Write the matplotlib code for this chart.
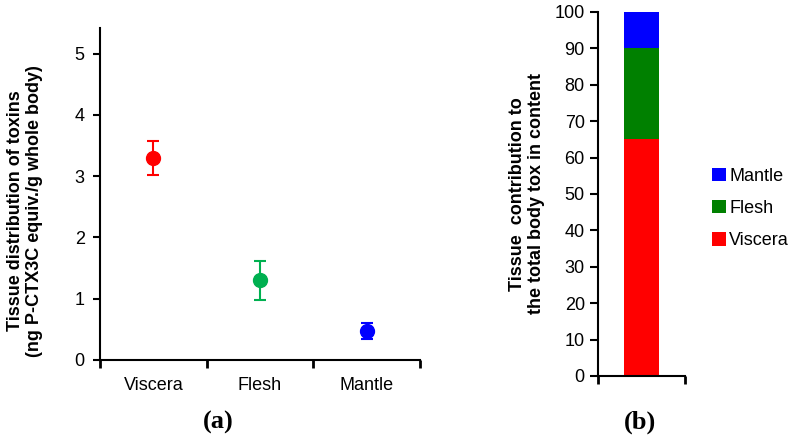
import numpy as np
import matplotlib.pyplot as plt

plt.rcParams['font.family'] = ['Liberation Sans', 'DejaVu Sans']

# panel (a): tissue distribution of toxins
tissues = ["Viscera", "Flesh", "Mantle"]
tox_mean = [3.3, 1.3, 0.48]
tox_err = [0.28, 0.32, 0.13]
point_colors = ["#ff0000", "#00b050", "#0000ff"]
a_yticks = [0, 1, 2, 3, 4, 5]

# panel (b): contribution to total body toxin content (%)
share_labels = ["Viscera", "Flesh", "Mantle"]
share_values = [65, 25, 10]
share_colors = ["#ff0000", "#008000", "#0000ff"]
b_yticks = [0, 10, 20, 30, 40, 50, 60, 70, 80, 90, 100]

fig = plt.figure(figsize=(7.88, 4.41), dpi=100)

# (a)
ax1 = fig.add_axes([0.1269, 0.1837, 0.4061, 0.7528])
xpos = np.arange(len(tissues)) + 0.5
for x, m, e, c in zip(xpos, tox_mean, tox_err, point_colors):
    ax1.errorbar(x, m, yerr=e, fmt='o', color=c, markersize=10,
                 capsize=4, elinewidth=1.5, capthick=1.5)
ax1.set_xlim(0, 3)
ax1.set_ylim(0, 5.42)
ax1.set_xticks([0, 1, 2, 3])
ax1.set_xticklabels([])
ax1.set_xticks(xpos, minor=True)
ax1.set_xticklabels(tissues, minor=True, fontsize=13)
ax1.tick_params(axis='x', which='minor', length=0, pad=12)
ax1.tick_params(axis='x', which='major', direction='out', length=6, width=2)
ax1.set_yticks(a_yticks)
ax1.tick_params(axis='y', direction='out', length=5, width=1.5, labelsize=13, pad=6)
for s in ['top', 'right']:
    ax1.spines[s].set_visible(False)
for s in ['left', 'bottom']:
    ax1.spines[s].set_linewidth(1.5)
ax1.set_ylabel("Tissue distribution of toxins\n(ng P-CTX3C equiv./g whole body)",
               fontsize=13, fontweight='bold', linespacing=1.15)
ax1.yaxis.set_label_coords(-0.178, 0.45)
fig.text(0.277, 0.043, "(a)", fontsize=19, fontweight='bold',
         family='Liberation Serif', ha='center', va='center')

# (b)
ax2 = fig.add_axes([0.7589, 0.1474, 0.1104, 0.8254])
bottom = 0
for lab, v, c in zip(share_labels, share_values, share_colors):
    ax2.bar(0.5, v, width=0.4, bottom=bottom, color=c, label=lab)
    bottom += v
ax2.set_xlim(0, 1)
ax2.set_ylim(0, 100)
ax2.set_xticks([0, 1])
ax2.set_xticklabels([])
ax2.tick_params(axis='x', direction='out', length=6, width=2)
ax2.set_yticks(b_yticks)
ax2.tick_params(axis='y', direction='out', length=6, width=1.5, labelsize=13)
for s in ['top', 'right']:
    ax2.spines[s].set_visible(False)
for s in ['left', 'bottom']:
    ax2.spines[s].set_linewidth(1.5)
ax2.set_ylabel("Tissue  contribution to\nthe total body tox in content",
               fontsize=13, fontweight='bold', labelpad=7, linespacing=1.15)
h, l = ax2.get_legend_handles_labels()
ax2.legend(h[::-1], l[::-1], loc='center left', bbox_to_anchor=(1.31, 0.46),
           borderaxespad=0, borderpad=0, frameon=False, fontsize=13,
           handlelength=0.75, handleheight=0.75, handletextpad=0.2,
           labelspacing=0.85)
fig.text(0.812, 0.043, "(b)", fontsize=19, fontweight='bold',
         family='Liberation Serif', ha='center', va='center')

fig.savefig("out.png", dpi=100)
